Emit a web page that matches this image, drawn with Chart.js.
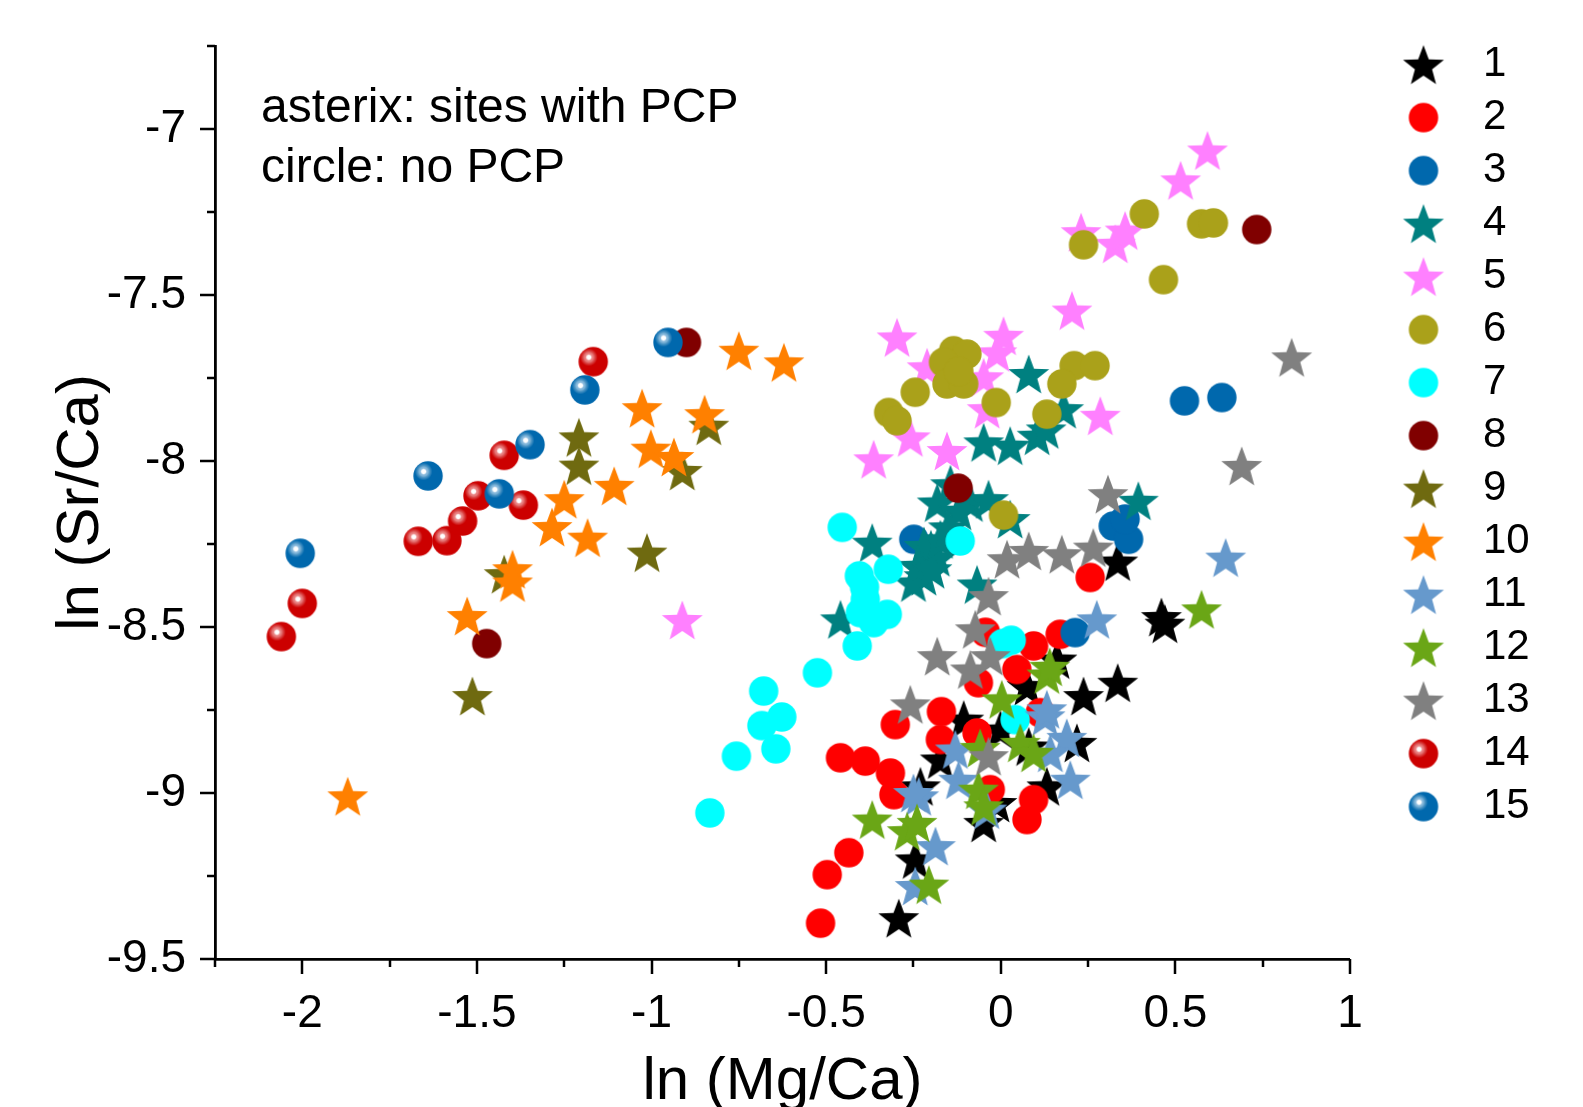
<!DOCTYPE html>
<html>
<head>
<meta charset="utf-8">
<script src="https://cdn.jsdelivr.net/npm/chart.js@4.4.1/dist/chart.umd.min.js"></script>
<style>
  html, body { margin: 0; padding: 0; background: #fff; }
  #wrap { width: 1583px; height: 1107px; }
</style>
</head>
<body>
<div id="wrap"><canvas id="chart" width="1583" height="1107"></canvas></div>
<script>
const FONT = "'Liberation Sans', Arial, Helvetica, sans-serif";

// series labels (legend)
const seriesNames = ['1', '2', '3', '4', '5', '6', '7', '8', '9', '10', '11', '12', '13', '14', '15'];

// ln(Mg/Ca) / ln(Sr/Ca) per site
const s1x = [-0.292, 0.46, 0.47, 0.335, 0.237, 0.335, 0.161, 0.075, 0.218, 0.132, -0.106, -0.001, -0.173, -0.23, -0.011, -0.049, -0.245, 0.08];
const s1y = [-9.377, -8.47, -8.49, -8.668, -8.708, -8.303, -8.598, -8.678, -8.849, -8.98, -8.779, -8.809, -8.899, -8.98, -9.03, -9.09, -9.2, -8.86];

const s2x = [-0.302, -0.459, -0.388, -0.316, -0.306, -0.435, -0.497, -0.516, 0.256, -0.044, 0.094, 0.17, 0.046, -0.064, -0.17, -0.173, -0.068, -0.03, 0.094, 0.075, 0.113];
const s2y = [-8.794, -8.894, -8.904, -8.94, -9.005, -9.18, -9.246, -9.392, -8.351, -8.516, -8.557, -8.522, -8.628, -8.668, -8.755, -8.839, -8.819, -8.99, -9.02, -9.08, -8.758];

const s3x = [0.526, 0.633, 0.322, 0.366, 0.356, 0.213, -0.249];
const s3y = [-7.819, -7.809, -8.196, -8.236, -8.175, -8.517, -8.236];

const s4x = [0.08, 0.18, 0.104, 0.13, 0.027, -0.049, -0.144, -0.182, -0.087, -0.035, 0.027, -0.12, -0.368, -0.2, -0.22, -0.068, -0.25, -0.459, 0.394, -0.22, -0.182, -0.237, -0.197, -0.173, -0.15];
const s4y = [-7.738, -7.844, -7.924, -7.905, -7.954, -7.944, -8.07, -8.125, -8.125, -8.115, -8.175, -8.15, -8.246, -8.266, -8.347, -8.372, -8.366, -8.477, -8.12, -8.256, -8.29, -8.316, -8.326, -8.236, -8.2];

const s5x = [0.592, 0.515, 0.23, 0.328, 0.356, 0.204, 0.285, -0.297, 0.008, -0.011, -0.211, -0.049, -0.039, -0.259, -0.154, -0.364, -0.912];
const s5y = [-7.065, -7.155, -7.311, -7.346, -7.306, -7.547, -7.864, -7.628, -7.623, -7.673, -7.718, -7.748, -7.844, -7.929, -7.97, -7.995, -8.479];

const s6x = [0.411, 0.575, 0.609, 0.237, 0.466, 0.21, 0.27, 0.175, 0.132, -0.013, -0.135, -0.097, -0.164, -0.154, -0.106, -0.245, -0.321, -0.297, 0.008, -0.12];
const s6y = [-7.256, -7.286, -7.283, -7.349, -7.454, -7.713, -7.713, -7.768, -7.859, -7.824, -7.668, -7.678, -7.703, -7.768, -7.768, -7.793, -7.854, -7.879, -8.163, -7.73];

const s7x = [-0.454, -0.405, -0.322, -0.325, -0.364, -0.402, -0.411, -0.388, -0.39, -0.525, -0.679, -0.627, -0.684, -0.644, -0.757, -0.833, -0.116, 0.005, 0.03, 0.041];
const s7y = [-8.2, -8.346, -8.326, -8.462, -8.487, -8.457, -8.557, -8.417, -8.38, -8.638, -8.693, -8.771, -8.797, -8.867, -8.889, -9.06, -8.241, -8.55, -8.54, -8.779];

const s8x = [-0.9, -1.472, -0.122, 0.733];
const s8y = [-7.643, -8.55, -8.082, -7.303];

const s9x = [-1.208, -1.208, -0.836, -0.912, -1.013, -1.513, -1.422];
const s9y = [-7.929, -8.014, -7.894, -8.03, -8.276, -8.708, -8.341];

const s10x = [-0.75, -0.621, -1.027, -0.848, -1.002, -0.936, -1.107, -1.25, -1.285, -1.183, -1.528, -1.398, -1.398, -1.87];
const s10y = [-7.668, -7.703, -7.841, -7.859, -7.963, -7.988, -8.075, -8.115, -8.199, -8.231, -8.467, -8.326, -8.366, -9.01];

const s11x = [0.644, 0.275, 0.199, 0.189, -0.13, -0.121, -0.235, -0.187, -0.245, 0.127, 0.142, -0.04, 0.132, -0.25];
const s11y = [-8.291, -8.477, -8.96, -8.834, -8.869, -8.96, -9.01, -9.16, -9.28, -8.769, -8.879, -9.05, -8.748, -9.0];

const s12x = [0.575, 0.132, 0.003, -0.368, -0.268, -0.24, -0.206, -0.064, -0.049, -0.059, 0.056, 0.094, 0.14];
const s12y = [-8.447, -8.643, -8.718, -9.08, -9.115, -9.09, -9.276, -8.99, -9.04, -8.864, -8.849, -8.879, -8.62];

const s13x = [0.833, 0.69, 0.018, 0.08, 0.175, 0.265, 0.307, -0.035, -0.073, -0.182, -0.087, -0.03, -0.259, -0.035];
const s13y = [-7.688, -8.015, -8.296, -8.271, -8.281, -8.261, -8.1, -8.407, -8.507, -8.588, -8.628, -8.588, -8.733, -8.889];

const s14x = [-2.06, -2.0, -1.668, -1.586, -1.541, -1.497, -1.367, -1.422, -1.167];
const s14y = [-8.529, -8.429, -8.242, -8.24, -8.181, -8.105, -8.133, -7.983, -7.701];

const s15x = [-2.006, -1.64, -1.436, -1.348, -1.191, -0.953];
const s15y = [-8.278, -8.045, -8.099, -7.951, -7.786, -7.643];

const seriesX = [s1x, s2x, s3x, s4x, s5x, s6x, s7x, s8x, s9x, s10x, s11x, s12x, s13x, s14x, s15x];
const seriesY = [s1y, s2y, s3y, s4y, s5y, s6y, s7y, s8y, s9y, s10y, s11y, s12y, s13y, s14y, s15y];

// marker kind and colour per series
const markerKind = ['star', 'circle', 'circle', 'star', 'star', 'circle', 'circle', 'circle', 'star', 'star', 'star', 'star', 'star', 'ball', 'ball'];
const markerColor = ['#000000', '#FF0000', '#0068AD', '#008080', '#FF80FF', '#AAA11A', '#00FFFF', '#800000',
                     '#6F6A10', '#FF8000', '#6699CC', '#6AA616', '#808080', '#CC0000', '#0068AD'];
const ballLight = { '#CC0000': 'rgba(240,150,150,0.85)', '#0068AD': 'rgba(160,200,230,0.85)' };

function isMajor(v) {
    return Math.abs(v * 2 - Math.round(v * 2)) < 1e-6;
}

function fmt(v) {
    const r = Math.round(v * 100) / 100;
    return r === 0 ? '0' : String(r);
}

// Marker images (Origin-style filled star, plain disc, shaded ball)
function makeStar(color) {
    const R = 21.5, r = R * 0.42, size = 48;
    const c = document.createElement('canvas');
    c.width = size; c.height = size;
    const g = c.getContext('2d');
    g.translate(size / 2, size / 2 + 2);
    g.beginPath();
    for (let i = 0; i < 10; i++) {
        const rad = i % 2 ? r : R;
        const a = -Math.PI / 2 + i * Math.PI / 5;
        g.lineTo(rad * Math.cos(a), rad * Math.sin(a));
    }
    g.closePath();
    g.fillStyle = color;
    g.fill();
    return c;
}

function makeCircle(color) {
    const R = 14.7, size = 32;
    const c = document.createElement('canvas');
    c.width = size; c.height = size;
    const g = c.getContext('2d');
    g.beginPath();
    g.arc(size / 2, size / 2, R, 0, Math.PI * 2);
    g.fillStyle = color;
    g.fill();
    return c;
}

function makeBall(color) {
    const R = 14.7, size = 32;
    const c = makeCircle(color);
    const g = c.getContext('2d');
    const hx = size / 2 - R * 0.3, hy = size / 2 - R * 0.3;
    const grad = g.createRadialGradient(hx, hy, 0, hx, hy, R * 0.6);
    grad.addColorStop(0, 'rgba(255,255,255,1)');
    grad.addColorStop(0.22, 'rgba(255,255,255,1)');
    grad.addColorStop(0.38, ballLight[color]);
    grad.addColorStop(0.62, 'rgba(255,255,255,0.35)');
    grad.addColorStop(1, 'rgba(255,255,255,0)');
    g.beginPath();
    g.arc(size / 2, size / 2, R, 0, Math.PI * 2);
    g.fillStyle = grad;
    g.fill();
    return c;
}

const markers = markerKind.map((k, i) => {
    if (k === 'star') return makeStar(markerColor[i]);
    if (k === 'ball') return makeBall(markerColor[i]);
    return makeCircle(markerColor[i]);
});

const datasets = seriesNames.map((name, i) => ({
    label: name,
    data: seriesX[i].map((x, j) => ({ x: x, y: seriesY[i][j] })),
    pointStyle: markers[i],
    pointRadius: 15,
    pointHoverRadius: 15,
    backgroundColor: markerColor[i],
    borderColor: markerColor[i],
    showLine: false,
    clip: false,
    xAxisID: 'x',
    yAxisID: 'y',
    order: seriesNames.length - i   // later sites drawn on top
}));

// Outward major / minor tick marks
const tickMarks = {
    id: 'tickMarks',
    afterDraw(chart) {
        const ctx = chart.ctx;
        const xs = chart.scales.x, ys = chart.scales.y;
        ctx.save();
        ctx.strokeStyle = '#000';
        ctx.lineWidth = 2.5;
        ctx.beginPath();
        xs.ticks.forEach(t => {
            const px = Math.round(xs.getPixelForValue(t.value));
            const len = isMajor(t.value) ? 15 : 8;
            ctx.moveTo(px, xs.top);
            ctx.lineTo(px, xs.top + len);
        });
        ys.ticks.forEach(t => {
            const py = Math.round(ys.getPixelForValue(t.value));
            const len = isMajor(t.value) ? 15 : 8;
            ctx.moveTo(ys.right - len, py);
            ctx.lineTo(ys.right, py);
        });
        ctx.stroke();
        ctx.restore();
    }
};

const noteLines = ['asterix: sites with PCP', 'circle: no PCP'];

const notes = {
    id: 'notes',
    afterDraw(chart) {
        const ctx = chart.ctx;
        const area = chart.chartArea;
        ctx.save();
        ctx.fillStyle = '#000';
        ctx.font = '48px ' + FONT;
        ctx.textBaseline = 'alphabetic';
        ctx.textAlign = 'left';
        noteLines.forEach((line, i) => {
            ctx.fillText(line, area.left + 46, area.top + 76.5 + i * 60);
        });
        ctx.restore();
    }
};

const axisTicks = (size) => ({
    stepSize: 0.25,
    autoSkip: false,
    maxRotation: 0,
    color: '#000',
    font: { family: FONT, size: size },
    callback: v => isMajor(v) ? fmt(v) : ''
});

new Chart(document.getElementById('chart'), {
    type: 'scatter',
    data: { datasets: datasets },
    options: {
        responsive: false,
        devicePixelRatio: 1,
        animation: false,
        events: [],
        layout: {
            padding: { top: 32.6, left: 0, right: 43.3, bottom: 0 }
        },
        scales: {
            x: {
                type: 'linear',
                position: 'bottom',
                min: -2.25,
                max: 1,
                ticks: { ...axisTicks(46), padding: 14 },
                grid: { display: true, drawOnChartArea: false, tickLength: 14, tickColor: 'rgba(0,0,0,0)' },
                border: { display: true, color: '#000', width: 2.8 },
                title: {
                    display: true,
                    text: 'ln (Mg/Ca)',
                    color: '#000',
                    font: { family: FONT, size: 60, lineHeight: 1 },
                    padding: { top: 0, bottom: -5 }
                },
                afterFit: s => { s.height = 148; }
            },
            y: {
                type: 'linear',
                position: 'left',
                min: -9.5,
                max: -6.75,
                ticks: { ...axisTicks(46), padding: 15 },
                grid: { display: true, drawOnChartArea: false, tickLength: 14, tickColor: 'rgba(0,0,0,0)' },
                border: { display: true, color: '#000', width: 2.8 },
                title: {
                    display: true,
                    text: 'ln (Sr/Ca)',
                    color: '#000',
                    font: { family: FONT, size: 60, lineHeight: 1 },
                    padding: { top: 51, bottom: 0 }
                },
                afterFit: s => { s.width = 215; }
            },
            // empty spacers that keep the plot clear of the legend and the top edge
            gapT: {
                type: 'linear',
                position: 'top',
                display: true,
                ticks: { display: false },
                grid: { display: false },
                border: { display: false },
                afterFit: s => { s.height = 13.3; }
            },
            gapR: {
                type: 'linear',
                position: 'right',
                display: true,
                ticks: { display: false },
                grid: { display: false },
                border: { display: false },
                afterFit: s => { s.width = 24; }
            }
        },
        plugins: {
            tooltip: { enabled: false },
            legend: {
                position: 'right',
                align: 'start',
                labels: {
                    usePointStyle: true,
                    pointStyleWidth: 77,
                    padding: 11,
                    color: '#000',
                    font: { family: FONT, size: 42 },
                    sort: (a, b) => a.datasetIndex - b.datasetIndex
                }
            }
        }
    },
    plugins: [tickMarks, notes]
});
</script>
</body>
</html>
